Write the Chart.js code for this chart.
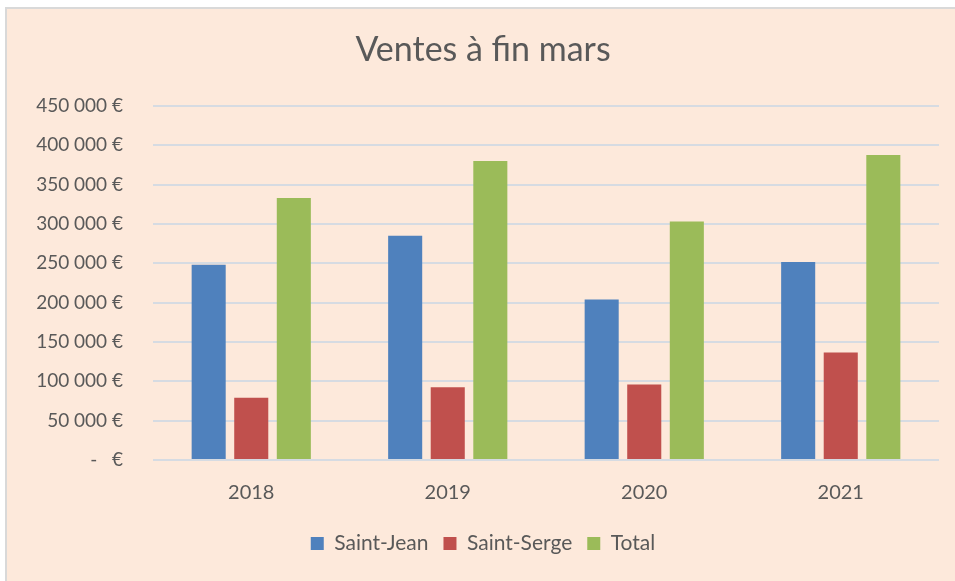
<!DOCTYPE html>
<html>
<head>
<meta charset="utf-8">
<script src="https://cdn.jsdelivr.net/npm/chart.js@4"></script>
<style>
  html, body { margin: 0; padding: 0; background: #ffffff; }
  #wrap {
    position: absolute; left: 5px; top: 7px; width: 950px; height: 574px;
    background: #fde9db; border-top: 2px solid #d9d9d9; border-left: 2px solid #d9d9d9;
  }
  canvas { display: block; }
</style>
</head>
<body>
<div id="wrap"><canvas id="chart" width="948" height="572"></canvas></div>
<script>
// Données du graphique
const annees = ['2018', '2019', '2020', '2021'];
const saintJean = [248000, 285000, 204000, 251500];
const saintSerge = [79000, 92500, 96000, 136500];
const total = [333000, 380000, 303000, 387500];

const couleurs = ['#4f81bd', '#c0504d', '#9bbb59'];
const police = 'Lato, "Open Sans", sans-serif';

// Format façon Excel : "450 000 €", et "-  €" pour zéro
function formatEuro(v) {
    if (v === 0) return '-   €';
    return String(v).replace(/\B(?=(\d{3})+(?!\d))/g, ' ') + ' €';
}

const ctx = document.getElementById('chart');
const chart = new Chart(ctx, {
    type: 'bar',
    data: {
        labels: annees,
        datasets: [
            { label: 'Saint-Jean', data: saintJean, backgroundColor: couleurs[0] },
            { label: 'Saint-Serge', data: saintSerge, backgroundColor: couleurs[1] },
            { label: 'Total', data: total, backgroundColor: couleurs[2] }
        ]
    },
    options: {
        responsive: false,
        animation: false,
        datasets: {
            bar: { categoryPercentage: 0.65, barPercentage: 0.8 }
        },
        layout: { padding: { left: 20, right: 16, top: 10, bottom: 17 } },
        plugins: {
            title: {
                display: true,
                text: 'Ventes à fin mars',
                color: '#595959',
                font: { family: police, size: 34, weight: 'normal' },
                padding: { top: 11, bottom: 35 }
            },
            legend: {
                position: 'bottom',
                labels: {
                    color: '#595959',
                    font: { family: police, size: 21 },
                    boxWidth: 13,
                    boxHeight: 13,
                    padding: 15
                }
            },
            tooltip: { enabled: false }
        },
        scales: {
            x: {
                grid: { display: false },
                border: { display: false },
                ticks: { color: '#595959', font: { family: police, size: 20 }, padding: 13 }
            },
            y: {
                min: 0,
                max: 450000,
                ticks: {
                    stepSize: 50000,
                    color: '#595959',
                    font: { family: police, size: 19 },
                    padding: 30,
                    callback: v => formatEuro(v)
                },
                grid: { color: '#d6dbe2', lineWidth: 2, drawTicks: false },
                border: { display: false },
                afterFit: function (scale) { scale.width = 126; }
            }
        }
    }
});
</script>
</body>
</html>
